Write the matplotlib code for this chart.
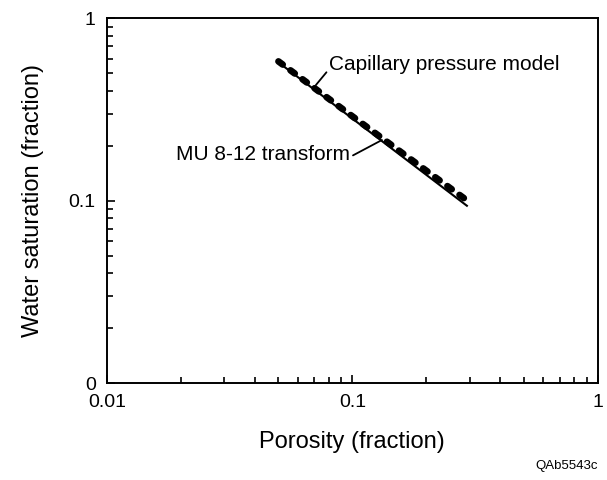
import matplotlib
matplotlib.use("Agg")
import matplotlib.pyplot as plt
from matplotlib.ticker import FixedLocator, LogLocator, NullFormatter

plt.rcParams['font.family'] = ['Liberation Sans', 'DejaVu Sans']

# MU 8-12 transform (solid line)
phi_transform = [0.049, 0.295]
sw_transform = [0.585, 0.093]
# Capillary pressure model (heavy dotted line)
phi_cap = [0.05, 0.1, 0.2, 0.3]
sw_cap = [0.58, 0.29, 0.146, 0.098]

x_ticks = [0.01, 0.1, 1]
x_labels = ['0.01', '0.1', '1']
y_ticks = [0.01, 0.1, 1]
y_labels = ['0', '0.1', '1']

fig = plt.figure(figsize=(6.07, 4.8), dpi=100)
ax = fig.add_axes([0.176, 0.202, 0.809, 0.76])
ax.set_xscale('log')
ax.set_yscale('log')
ax.set_xlim(0.01, 1)
ax.set_ylim(0.01, 1)

ax.plot(phi_transform, sw_transform, color='black', lw=1.5, solid_capstyle='butt')
ax.plot(phi_cap, sw_cap, color='black', lw=4.8, linestyle=(0, (0.8, 1.45)),
        dash_capstyle='round')

ax.xaxis.set_major_locator(FixedLocator(x_ticks))
ax.set_xticklabels(x_labels)
ax.yaxis.set_major_locator(FixedLocator(y_ticks))
ax.set_yticklabels(y_labels)
ax.xaxis.set_minor_locator(LogLocator(base=10, subs=range(2, 10)))
ax.yaxis.set_minor_locator(LogLocator(base=10, subs=range(2, 10)))
ax.xaxis.set_minor_formatter(NullFormatter())
ax.yaxis.set_minor_formatter(NullFormatter())
ax.tick_params(which='both', direction='in', top=False, right=False,
               labelsize=14, width=1.2)
ax.tick_params(axis='x', which='both', pad=8)
ax.tick_params(axis='y', which='both', pad=8)
ax.tick_params(which='major', length=6)
ax.tick_params(which='minor', length=4)
for s in ax.spines.values():
    s.set_linewidth(1.4)

ax.set_xlabel('Porosity (fraction)', fontsize=17, labelpad=14)
ax.set_ylabel('Water saturation (fraction)', fontsize=17, labelpad=18)

ax.annotate('Capillary pressure model', xy=(0.071, 0.43), xytext=(0.0805, 0.56),
            fontsize=15, va='center', ha='left',
            arrowprops=dict(arrowstyle='-', color='black', lw=1.3,
                            shrinkA=0, shrinkB=0, relpos=(0, 0.25)))
ax.annotate('MU 8-12 transform', xy=(0.132, 0.215), xytext=(0.098, 0.178),
            fontsize=15, va='center', ha='right',
            arrowprops=dict(arrowstyle='-', color='black', lw=1.3,
                            shrinkA=0, shrinkB=0, relpos=(1, 0.4)))

fig.text(0.882, 0.03, 'QAb5543c', fontsize=9.5, ha='left', va='center')

fig.savefig('out.png', dpi=100)
